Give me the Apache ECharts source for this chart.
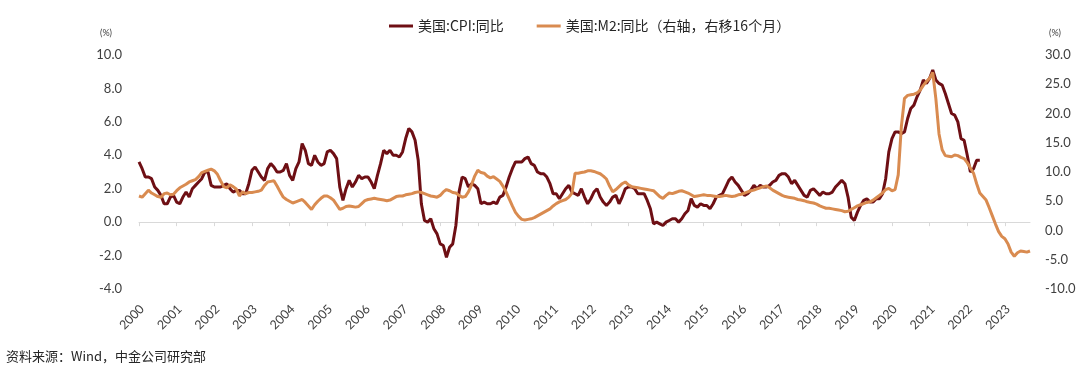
<!DOCTYPE html>
<html><head><meta charset="utf-8">
<script src="https://cdn.jsdelivr.net/npm/echarts@6/dist/echarts.min.js"></script>
<style>html,body{margin:0;padding:0;background:#fff}#c{width:1080px;height:381px}</style>
</head><body><div id="c"></div>
<script>
// Monthly positions Jan 2000 .. Sep 2023 (285 months)
const startYear = 2000, monthCount = 285;
const months = [];
for (let i = 0; i < monthCount; i++) {
  const y = startYear + Math.floor(i / 12), m = (i % 12) + 1;
  months.push(y + '-' + (m < 10 ? '0' + m : m));
}
const seriesNames = ['美国:CPI:同比', '美国:M2:同比（右轴，右移16个月）'];
const leftTicks = { min: -4, max: 10, interval: 2 };
const rightTicks = { min: -10, max: 30, interval: 5 };

// 美国:CPI:同比 (%), as plotted from Jan-2000 position onward
const cpi = [
  3.6, 3.2, 2.7, 2.7, 2.6, 2.1, 1.9, 1.6,
  1.1, 1.1, 1.5, 1.6, 1.2, 1.1, 1.5, 1.8, 1.5, 2.0, 2.2, 2.4,
  2.6, 3.0, 3.0, 2.2, 2.1, 2.1, 2.1, 2.2, 2.3, 2.0, 1.8, 1.9,
  1.9, 1.7, 1.7, 2.3, 3.1, 3.3, 3.0, 2.7, 2.5, 3.2, 3.5, 3.3,
  3.0, 3.0, 3.1, 3.5, 2.8, 2.5, 3.2, 3.6, 4.7, 4.3, 3.5, 3.4,
  4.0, 3.6, 3.4, 3.5, 4.2, 4.3, 4.1, 3.8, 2.1, 1.3, 2.0, 2.5,
  2.1, 2.4, 2.8, 2.6, 2.7, 2.7, 2.4, 2.0, 2.8, 3.5, 4.3, 4.1,
  4.3, 4.0, 4.0, 3.9, 4.2, 5.0, 5.6, 5.4, 4.9, 3.7, 1.1, 0.1,
  0.0, 0.2, -0.4, -0.7, -1.3, -1.4, -2.1, -1.5, -1.3, -0.2, 1.8, 2.7,
  2.6, 2.1, 2.3, 2.2, 2.0, 1.1, 1.2, 1.1, 1.1, 1.2, 1.1, 1.5,
  1.6, 2.1, 2.7, 3.2, 3.6, 3.6, 3.6, 3.8, 3.9, 3.5, 3.4, 3.0,
  2.9, 2.9, 2.7, 2.3, 1.7, 1.7, 1.4, 1.7, 2.0, 2.2, 1.8, 1.7,
  1.6, 2.0, 1.5, 1.1, 1.4, 1.8, 2.0, 1.5, 1.2, 1.0, 1.2, 1.5,
  1.6, 1.1, 1.5, 2.0, 2.1, 2.1, 2.0, 1.7, 1.7, 1.7, 1.3, 0.8,
  -0.1, 0.0, -0.1, -0.2, 0.0, 0.1, 0.2, 0.2, 0.0, 0.2, 0.5, 0.7,
  1.4, 1.0, 0.9, 1.1, 1.0, 1.0, 0.8, 1.1, 1.5, 1.6, 1.7, 2.1,
  2.5, 2.7, 2.4, 2.2, 1.9, 1.6, 1.7, 1.9, 2.2, 2.0, 2.2, 2.1,
  2.1, 2.2, 2.4, 2.5, 2.8, 2.9, 2.9, 2.7, 2.3, 2.5, 2.2, 1.9,
  1.6, 1.5, 1.9, 2.0, 1.8, 1.6, 1.8, 1.7, 1.7, 1.8, 2.1, 2.3,
  2.5, 2.3, 1.5, 0.3, 0.1, 0.6, 1.0, 1.3, 1.4, 1.2, 1.2, 1.4,
  1.4, 1.7, 2.6, 4.2, 5.0, 5.4, 5.4, 5.3, 5.4, 6.2, 6.8, 7.0,
  7.5, 7.9, 8.5, 8.3, 8.6, 9.1, 8.5, 8.3, 8.2, 7.7, 7.1, 6.5,
  6.4, 6.0, 5.0, 4.9, 4.0, 3.0, 3.2, 3.7, 3.7
];

// 美国:M2:同比 (%), right axis
const m2 = [
  5.9, 5.7, 6.3, 6.9, 6.4, 6.1, 5.8, 5.7, 6.3, 6.4, 6.1, 6.2,
  6.8, 7.3, 7.6, 7.9, 8.3, 8.5, 8.7, 9.2, 9.9, 10.1, 10.3, 10.5,
  10.2, 9.6, 8.5, 7.5, 7.3, 7.8, 7.5, 7.1, 5.9, 6.6, 6.3, 6.5,
  6.5, 6.6, 6.7, 6.9, 7.7, 8.3, 8.4, 8.5, 7.6, 6.6, 5.7, 5.3,
  5.0, 4.7, 4.9, 5.1, 5.3, 4.8, 4.2, 3.6, 4.4, 5.0, 5.5, 5.9,
  5.9, 5.6, 5.2, 4.4, 3.6, 3.8, 4.1, 4.2, 4.1, 4.0, 4.1, 4.6,
  5.1, 5.3, 5.4, 5.5, 5.4, 5.3, 5.2, 5.1, 5.2, 5.5, 5.8, 5.9,
  5.9, 6.1, 6.2, 6.3, 6.5, 6.6, 6.5, 6.3, 6.1, 5.9, 5.8, 5.7,
  6.0, 6.6, 7.0, 6.8, 6.5, 6.4, 6.0, 5.7, 5.8, 6.6, 7.8, 9.3,
  10.3, 9.9, 9.8, 9.3, 9.0, 9.2, 8.8, 8.4, 7.6, 6.6, 5.4, 4.2,
  3.1, 2.4, 1.9, 1.8, 1.9, 2.0, 2.2, 2.5, 2.8, 3.1, 3.4, 3.7,
  4.2, 4.6, 4.9, 5.1, 5.3, 5.7, 6.4, 9.8, 9.8, 9.9, 10.0, 10.2,
  10.2, 10.1, 9.9, 9.7, 9.3, 8.8, 7.6, 6.6, 7.0, 7.5, 8.0, 8.3,
  7.8, 7.5, 7.4, 7.3, 7.2, 7.1, 7.0, 6.9, 6.8, 6.3, 5.8, 5.5,
  6.0, 6.4, 6.3, 6.5, 6.7, 6.8, 6.6, 6.4, 6.1, 5.8, 5.9, 6.0,
  6.1, 6.0, 6.0, 5.9, 5.8, 5.8, 5.9, 6.0, 5.9, 5.8, 5.9, 6.1,
  6.2, 6.4, 6.6, 6.8, 6.9, 7.1, 7.3, 7.5, 7.6, 7.3, 6.9, 6.6,
  6.3, 6.0, 5.8, 5.7, 5.6, 5.5, 5.3, 5.2, 5.1, 4.9, 4.8, 4.7,
  4.5, 4.2, 4.0, 3.8, 3.8, 3.7, 3.6, 3.5, 3.4, 3.2, 3.3, 3.6,
  3.9, 4.2, 4.4, 4.6, 4.8, 4.9, 5.2, 5.6, 6.0, 6.4, 7.0, 7.2,
  6.8, 7.0, 9.5, 17.8, 22.6, 23.1, 23.2, 23.3, 23.5, 24.0, 24.8, 25.5,
  26.0, 27.0, 22.5, 16.5, 13.8, 12.8, 12.7, 12.6, 12.9, 12.8, 12.5, 12.3,
  11.6, 10.7, 9.8, 8.0, 6.4, 5.8, 5.2, 3.9, 2.5, 1.1, -0.2, -1.0,
  -1.4, -2.3, -3.7, -4.4, -3.8, -3.5, -3.6, -3.7, -3.5
];

const textColor = '#404040';
const latin = 'Lato, "Noto Sans CJK SC", sans-serif';
const chart = echarts.init(document.getElementById('c'), null, { renderer: 'canvas' });
chart.setOption({
  animation: false,
  backgroundColor: '#ffffff',
  color: ['#6E0F14', '#D98B50'],
  legend: {
    top: 14, left: 384,
    itemWidth: 24, itemHeight: 3, itemGap: 33, icon: 'rect',
    textStyle: { fontFamily: '"Noto Sans CJK SC", sans-serif', fontSize: 14, color: '#262626' },
    data: seriesNames
  },
  grid: { left: 139, right: 50, top: 55, bottom: 92, containLabel: false },
  xAxis: [
    {
      type: 'category', data: months, boundaryGap: false,
      axisLine: { show: true, onZero: true, onZeroAxisIndex: 0, lineStyle: { color: '#D9D9D9', width: 1 } },
      axisTick: { show: true, length: 4, interval: function (i) { return i % 12 === 0; }, lineStyle: { color: '#D9D9D9' } },
      axisLabel: { show: false },
      splitLine: { show: false }
    },
    {
      type: 'category', data: months, boundaryGap: false, position: 'bottom',
      axisLine: { show: false, onZero: false },
      axisTick: { show: false },
      axisLabel: {
        show: true, rotate: 45, margin: 18, fontSize: 12.5, color: textColor, fontFamily: latin,
        interval: function (i) { return i % 12 === 1; },
        formatter: function (v) { return v.slice(0, 4); }
      },
      splitLine: { show: false }
    }
  ],
  yAxis: [
    {
      type: 'value', min: leftTicks.min, max: leftTicks.max, interval: leftTicks.interval,
      axisLine: { show: false }, axisTick: { show: false }, splitLine: { show: false },
      axisLabel: { margin: 17, fontSize: 13, color: textColor, fontFamily: latin, formatter: function (v) { return v.toFixed(1); } }
    },
    {
      type: 'value', min: rightTicks.min, max: rightTicks.max, interval: rightTicks.interval, position: 'right',
      axisLine: { show: false }, axisTick: { show: false }, splitLine: { show: false },
      axisLabel: { margin: 15, fontSize: 13, color: textColor, fontFamily: latin, formatter: function (v) { return v.toFixed(1); } }
    }
  ],
  graphic: [
    { type: 'text', left: 100, top: 29, style: { text: '(%)', fontSize: 9, fill: textColor, fontFamily: latin } },
    { type: 'text', left: 1049, top: 29, style: { text: '(%)', fontSize: 9, fill: textColor, fontFamily: latin } },
    { type: 'text', left: 6, top: 350, style: { text: '资料来源：Wind，中金公司研究部', fontSize: 13, fill: '#262626', fontFamily: '"Noto Sans CJK SC", sans-serif' } }
  ],
  series: [
    { name: seriesNames[0], type: 'line', xAxisIndex: 0, yAxisIndex: 0, data: cpi, showSymbol: false, symbol: 'none', lineStyle: { width: 3, color: '#6E0F14' }, itemStyle: { color: '#6E0F14' } },
    { name: seriesNames[1], type: 'line', xAxisIndex: 0, yAxisIndex: 1, data: m2, showSymbol: false, symbol: 'none', lineStyle: { width: 3, color: '#D98B50' }, itemStyle: { color: '#D98B50' } }
  ]
});
</script></body></html>
